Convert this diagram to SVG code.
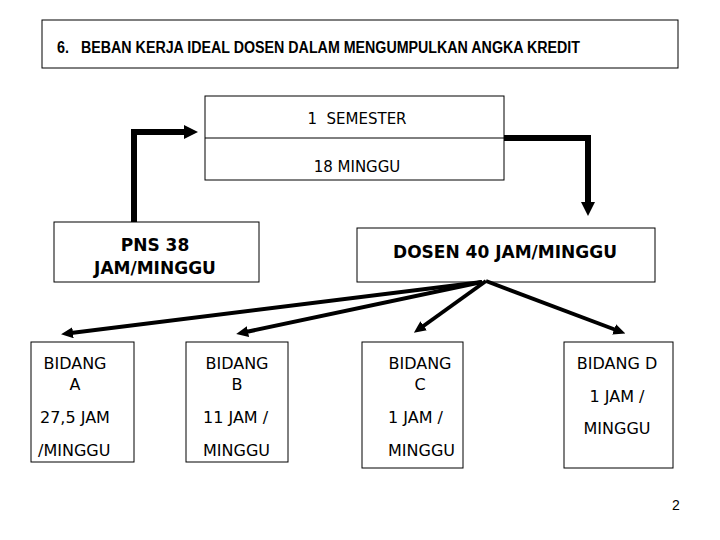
<svg xmlns="http://www.w3.org/2000/svg" width="720" height="540" viewBox="0 0 720 540">
<style>
.box{fill:#fff;stroke:#000;stroke-width:1}
.t{font-family:"DejaVu Sans",Verdana,sans-serif;font-size:16px;fill:#000}
.b{font-family:"DejaVu Sans",Verdana,sans-serif;font-size:17px;font-weight:bold;fill:#000}
.h{font-family:"Liberation Sans",Arial,sans-serif;font-size:16px;font-weight:bold;fill:#000}
.m{text-anchor:middle}
.thick{fill:none;stroke:#000;stroke-width:6}
.thin{fill:none;stroke:#000;stroke-width:4}
</style>
<defs>
<marker id="ah" markerWidth="14" markerHeight="14" refX="2" refY="7" orient="auto" markerUnits="userSpaceOnUse" viewBox="0 0 14 14">
<path d="M0,0 L14,7 L0,14 z" fill="#000"/>
</marker>
<marker id="as" markerWidth="12" markerHeight="11" refX="2" refY="5.5" orient="auto" markerUnits="userSpaceOnUse" viewBox="0 0 12 11">
<path d="M0,0 L12,5.5 L0,11 z" fill="#000"/>
</marker>
</defs>
<rect width="720" height="540" fill="#fff"/>
<g id="title">
<rect class="box" x="42" y="20" width="636" height="48"/>
<text class="h" x="57" y="53" textLength="12" lengthAdjust="spacingAndGlyphs">6.</text>
<text class="h" x="81" y="53" textLength="499" lengthAdjust="spacingAndGlyphs">BEBAN KERJA IDEAL DOSEN DALAM MENGUMPULKAN ANGKA KREDIT</text>
</g>
<g id="semester">
<rect class="box" x="205" y="96" width="299" height="84"/>
<line x1="205" y1="138" x2="504" y2="138" stroke="#000" stroke-width="1"/>
<text class="t m" x="357" y="124" style="font-size:15px" xml:space="preserve">1  SEMESTER</text>
<text class="t m" x="357" y="172" style="font-size:15px">18 MINGGU</text>
</g>
<g id="pns">
<rect class="box" x="54" y="222" width="205" height="60"/>
<text class="b m" x="155" y="251">PNS 38</text>
<text class="b m" x="155" y="274">JAM/MINGGU</text>
</g>
<g id="dosen">
<rect class="box" x="357" y="228" width="298" height="54"/>
<text class="b m" x="505" y="258">DOSEN 40 JAM/MINGGU</text>
</g>
<g id="bidangA">
<rect class="box" x="31" y="342" width="103" height="120"/>
<text class="t m" x="75" y="369">BIDANG</text>
<text class="t m" x="75" y="390">A</text>
<text class="t" x="40" y="423">27,5 JAM</text>
<text class="t" x="38" y="456">/MINGGU</text>
</g>
<g id="bidangB">
<rect class="box" x="186" y="342" width="102" height="120"/>
<text class="t m" x="237" y="369">BIDANG</text>
<text class="t m" x="237" y="390">B</text>
<text class="t" x="203" y="423">11 JAM /</text>
<text class="t" x="203" y="456">MINGGU</text>
</g>
<g id="bidangC">
<rect class="box" x="362" y="342" width="101" height="126"/>
<text class="t m" x="420" y="369">BIDANG</text>
<text class="t m" x="420" y="390">C</text>
<text class="t" x="388" y="423">1 JAM /</text>
<text class="t" x="388" y="456">MINGGU</text>
</g>
<g id="bidangD">
<rect class="box" x="564" y="342" width="109" height="126"/>
<text class="t m" x="617" y="369">BIDANG D</text>
<text class="t m" x="617" y="402">1 JAM /</text>
<text class="t m" x="617" y="434">MINGGU</text>
</g>
<g id="connectors">
<path class="thick" d="M134,222 V132 H186" marker-end="url(#ah)"/>
<path class="thick" d="M504,138 H588 V204" marker-end="url(#ah)"/>
<line class="thin" x1="482" y1="282" x2="71" y2="333" marker-end="url(#as)"/>
<line class="thin" x1="482" y1="282" x2="246" y2="332" marker-end="url(#as)"/>
<line class="thin" x1="486" y1="281" x2="422" y2="327" marker-end="url(#as)"/>
<line class="thin" x1="486" y1="281" x2="616" y2="330" marker-end="url(#as)"/>
</g>
<text x="672" y="510" font-family="Liberation Sans,Arial,sans-serif" font-size="14">2</text>
</svg>
